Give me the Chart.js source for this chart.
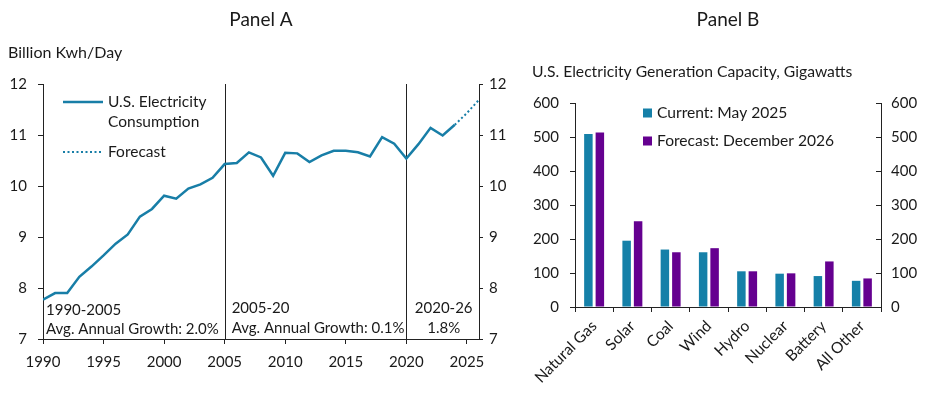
<!DOCTYPE html>
<html><head><meta charset="utf-8">
<script src="https://cdn.jsdelivr.net/npm/chart.js@4"></script>
<style>
html,body{margin:0;padding:0;background:#fff;}
#wrap{position:relative;width:925px;height:393px;overflow:hidden;}
#boxA{position:absolute;left:0;top:0;width:520px;height:393px;}
#boxB{position:absolute;left:520px;top:0;width:405px;height:393px;}
</style></head><body>
<div id="wrap"><div id="boxA"><canvas id="cA" width="520" height="393"></canvas></div><div id="boxB"><canvas id="cB" width="405" height="393"></canvas></div></div>
<script>
// ---- Panel A data ----
const years = [1990,1991,1992,1993,1994,1995,1996,1997,1998,1999,2000,2001,2002,2003,2004,2005,2006,2007,2008,2009,2010,2011,2012,2013,2014,2015,2016,2017,2018,2019,2020,2021,2022,2023,2024];
const consumption = [7.77,7.90,7.90,8.22,8.42,8.64,8.87,9.05,9.40,9.55,9.81,9.75,9.95,10.03,10.16,10.43,10.45,10.66,10.56,10.20,10.65,10.64,10.47,10.60,10.69,10.69,10.66,10.58,10.96,10.83,10.54,10.82,11.14,10.99,11.20];
const forecastYears = [2024,2025,2026];
const forecastValues = [11.20,11.43,11.69];
const periodBreaks = [2005,2020];
const periodLabels = [["1990-2005","Avg. Annual Growth: 2.0%"],["2005-20","Avg. Annual Growth: 0.1%"],["2020-26","1.8%"]];

// ---- Panel B data ----
const categories = ["Natural Gas","Solar","Coal","Wind","Hydro","Nuclear","Battery","All Other"];
const currentMay2025 = [509,195,169,161,105,98,91,77];
const forecastDec2026 = [513,252,161,173,105,99,134,84];

const FONT = "Lato, 'Open Sans', sans-serif";
const TXT = '#1a1a1a';
const AXIS = '#222';
const TEAL = '#187ea7';
const BAR_TEAL = '#1580a8';
const PURPLE = '#650090';
Chart.defaults.font.family = FONT;
Chart.defaults.font.size = 15;
Chart.defaults.color = TXT;

function fixW(w){ return function(s){ s.width = w; }; }
function fixH(h){ return function(s){ s.height = h; }; }

const panelAPlugin = {
  id: 'panelA',
  beforeDatasetsDraw(chart){
    const {ctx, chartArea, scales} = chart;
    ctx.save();
    ctx.strokeStyle = AXIS; ctx.lineWidth = 1;
    periodBreaks.forEach(yr => {
      const x = Math.round(scales.x.getPixelForValue(yr)) + 0.5;
      ctx.beginPath(); ctx.moveTo(x, chartArea.top); ctx.lineTo(x, chartArea.bottom); ctx.stroke();
    });
    ctx.restore();
  },
  afterDraw(chart){
    const {ctx, chartArea, scales} = chart;
    ctx.save();
    ctx.fillStyle = TXT;
    ctx.textBaseline = 'middle';
    ctx.textAlign = 'center';
    ctx.font = '19px ' + FONT;
    ctx.fillText('Panel A', (chartArea.left + chartArea.right)/2, 20);
    ctx.textAlign = 'left';
    ctx.font = '16px ' + FONT;
    ctx.fillText('Billion Kwh/Day', 8, 53);
    // legend
    ctx.font = '15.5px ' + FONT;
    const lx0 = chartArea.left + 20, lx1 = chartArea.left + 60;
    ctx.strokeStyle = TEAL; ctx.lineWidth = 2.5;
    ctx.beginPath(); ctx.moveTo(lx0, 102); ctx.lineTo(lx1, 102); ctx.stroke();
    ctx.lineWidth = 2; ctx.setLineDash([2,2.5]);
    ctx.beginPath(); ctx.moveTo(lx0, 152); ctx.lineTo(lx1, 152); ctx.stroke();
    ctx.setLineDash([]);
    ctx.fillText('U.S. Electricity', lx1 + 5, 102);
    ctx.fillText('Consumption', lx1 + 5, 122);
    ctx.fillText('Forecast', lx1 + 5, 152);
    // period annotations
    ctx.font = '15px ' + FONT;
    const x1990 = scales.x.getPixelForValue(1990);
    const x2005 = scales.x.getPixelForValue(2005);
    const x2020 = scales.x.getPixelForValue(2020);
    const xr = chartArea.right;
    ctx.fillText(periodLabels[0][0], x1990 + 3, 310);
    ctx.fillText(periodLabels[0][1], x1990 + 3, 329);
    ctx.fillText(periodLabels[1][0], x2005 + 7, 308);
    ctx.fillText(periodLabels[1][1], x2005 + 7, 328);
    ctx.textAlign = 'center';
    ctx.fillText(periodLabels[2][0], (x2020 + xr)/2 + 1, 308);
    ctx.fillText(periodLabels[2][1], (x2020 + xr)/2 + 1, 328);
    ctx.restore();
  }
};

new Chart(document.getElementById('cA'), {
  type: 'line',
  data: {
    datasets: [
      { label: 'U.S. Electricity Consumption', data: years.map((y,i)=>({x:y, y:consumption[i]})),
        borderColor: TEAL, borderWidth: 2.5, pointRadius: 0, tension: 0, yAxisID: 'y' },
      { label: 'Forecast', data: forecastYears.map((y,i)=>({x:y, y:forecastValues[i]})),
        borderColor: TEAL, borderWidth: 2, borderDash: [2,2.5], pointRadius: 0, tension: 0, yAxisID: 'y' }
    ]
  },
  options: {
    responsive: false, animation: false, devicePixelRatio: 1,
    layout: { padding: { top: 84, left: 0, right: 0, bottom: 0 } },
    plugins: { legend: { display: false }, tooltip: { enabled: false } },
    scales: {
      x: { type: 'linear', min: 1990, max: 2026, afterFit: fixH(54),
           ticks: { stepSize: 5, includeBounds: false, padding: 9, callback: v => String(v), color: TXT },
           grid: { drawOnChartArea: false, tickLength: 5, color: AXIS },
           border: { display: true, color: AXIS, width: 1 } },
      y: { position: 'left', min: 7, max: 12, afterFit: fixW(43),
           ticks: { stepSize: 1, padding: 11, color: TXT },
           grid: { drawOnChartArea: false, tickLength: 5, color: AXIS },
           border: { display: true, color: AXIS, width: 1 } },
      y2: { position: 'right', min: 7, max: 12, afterFit: fixW(41),
           ticks: { stepSize: 1, padding: 6, color: TXT },
           grid: { drawOnChartArea: false, tickLength: 4, color: AXIS },
           border: { display: true, color: AXIS, width: 1 } }
    }
  },
  plugins: [panelAPlugin]
});

const panelBPlugin = {
  id: 'panelB',
  afterDraw(chart){
    const {ctx, chartArea, scales} = chart;
    ctx.save();
    // inward ticks on right axis
    ctx.strokeStyle = AXIS; ctx.lineWidth = 1;
    scales.y2.ticks.forEach(t => {
      const py = Math.round(scales.y2.getPixelForValue(t.value)) + 0.5;
      ctx.beginPath(); ctx.moveTo(chartArea.right - 5, py); ctx.lineTo(chartArea.right, py); ctx.stroke();
    });
    ctx.fillStyle = TXT;
    ctx.textBaseline = 'middle';
    ctx.textAlign = 'center';
    ctx.font = '19px ' + FONT;
    ctx.fillText('Panel B', (chartArea.left + chartArea.right)/2, 20);
    ctx.textAlign = 'left';
    ctx.font = '15.7px ' + FONT;
    ctx.fillText('U.S. Electricity Generation Capacity, Gigawatts', 12, 72);
    // legend
    ctx.font = '15.6px ' + FONT;
    const sx = 123;
    ctx.fillStyle = BAR_TEAL; ctx.fillRect(sx, 108.5, 9, 9);
    ctx.fillStyle = PURPLE; ctx.fillRect(sx, 136.5, 9, 9);
    ctx.fillStyle = TXT;
    ctx.fillText('Current: May 2025', sx + 14, 113);
    ctx.fillText('Forecast: December 2026', sx + 14, 141);
    ctx.restore();
  }
};

new Chart(document.getElementById('cB'), {
  type: 'bar',
  data: {
    labels: categories,
    datasets: [
      { label: 'Current: May 2025', data: currentMay2025, backgroundColor: BAR_TEAL, borderWidth: 0,
        categoryPercentage: 0.6, barPercentage: 0.74, yAxisID: 'y' },
      { label: 'Forecast: December 2026', data: forecastDec2026, backgroundColor: PURPLE, borderWidth: 0,
        categoryPercentage: 0.6, barPercentage: 0.74, yAxisID: 'y' }
    ]
  },
  options: {
    responsive: false, animation: false, devicePixelRatio: 1,
    layout: { padding: { top: 103, left: 0, right: 0, bottom: 0 } },
    plugins: { legend: { display: false }, tooltip: { enabled: false } },
    scales: {
      x: { afterFit: fixH(86),
           ticks: { maxRotation: 45, minRotation: 45, padding: 5, color: TXT, autoSkip: false, font: { size: 15.5 } },
           grid: { drawOnChartArea: false, tickLength: 5, color: AXIS, offset: true },
           border: { display: true, color: AXIS, width: 1 } },
      y: { position: 'left', min: 0, max: 600, afterFit: fixW(55),
           ticks: { stepSize: 100, padding: 11, color: TXT },
           grid: { drawOnChartArea: false, tickLength: 5, color: AXIS },
           border: { display: true, color: AXIS, width: 1 } },
      y2: { position: 'right', min: 0, max: 600, afterFit: fixW(44),
           ticks: { stepSize: 100, padding: 10, color: TXT },
           grid: { drawOnChartArea: false, drawTicks: false, tickLength: 0, color: AXIS },
           border: { display: true, color: AXIS, width: 1 } }
    }
  },
  plugins: [panelBPlugin]
});
</script>
</body></html>
